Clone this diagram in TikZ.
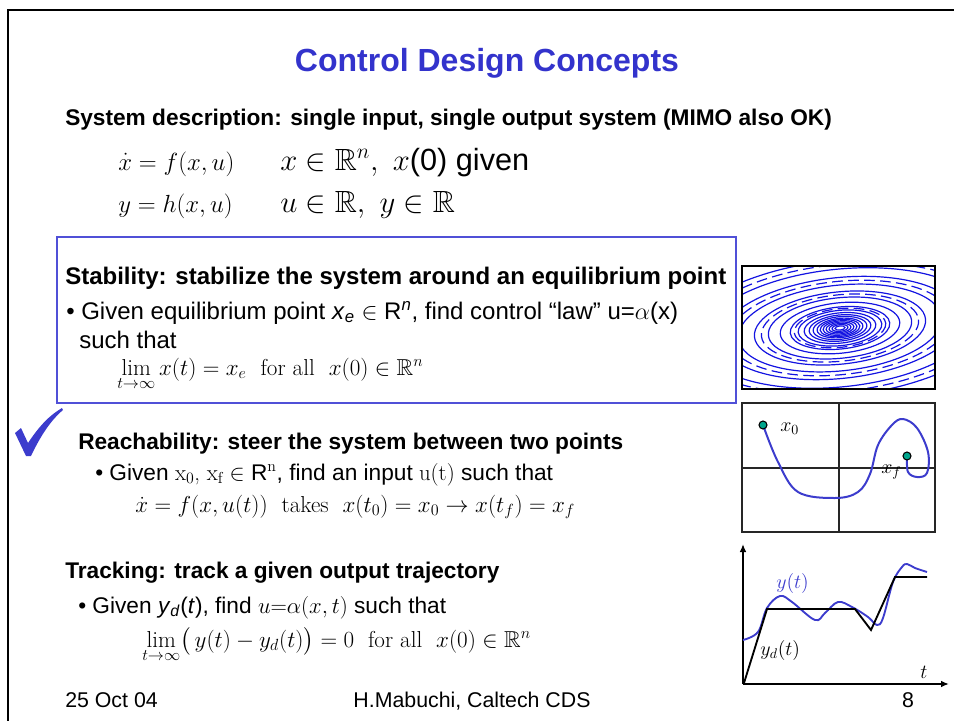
\RequirePackage{fix-cm}
\documentclass[tikz,border=0pt]{standalone}
\usepackage{amsmath, amssymb}
\usepackage{fontspec}
\setsansfont{Liberation Sans}
\usetikzlibrary{arrows.meta}

\definecolor{titleblue}{RGB}{51,51,204}
\definecolor{boxblue}{RGB}{80,80,215}
\definecolor{spiralblue}{RGB}{20,20,225}
\definecolor{curveblue}{RGB}{60,60,205}
\definecolor{dotteal}{RGB}{0,165,140}

\tikzset{
  headline/.style={anchor=base west, inner sep=0pt, font=\sffamily\bfseries\fontsize{17}{20}\selectfont},
  bodyline/.style={anchor=base west, inner sep=0pt, font=\sffamily\fontsize{17}{20}\selectfont},
  mathline/.style={anchor=base west, inner sep=0pt, font=\fontsize{17.3}{21}\selectfont},
  footline/.style={anchor=base, inner sep=0pt, font=\sffamily\fontsize{16}{19}\selectfont},
  figlabel/.style={inner sep=0pt, font=\fontsize{15}{18}\selectfont},
  bigger/.style={font=\sffamily\fontsize{18}{21}\selectfont},
}

\begin{document}
\begin{tikzpicture}[x=0.75pt, y=-0.75pt]
    \useasboundingbox (0,0) rectangle (954,721);

    % Rahmen der Folie
    \draw[line width=2.2pt] (8,721) -- (8,10) -- (954,10);

    % Titel
    \node[anchor=base, inner sep=0pt, text=titleblue, font=\sffamily\bfseries\fontsize{24}{28}\selectfont] (title) at (487,71) {Control Design Concepts};

    % Systembeschreibung
    \node[headline] (sysdesc) at (65,125) {System description: single input, single output system (MIMO also OK)};
    \node[mathline, font=\fontsize{18.6}{22}\selectfont] (eqone) at (118,170) {$\dot{x} = f(x,u)$};
    \node[mathline, font=\fontsize{23}{26}\selectfont] (eqoneb) at (280,170) {$x \in \mathbb{R}^n,\ x$\textsf{(0) given}};
    \node[mathline, font=\fontsize{18.6}{22}\selectfont] (eqtwo) at (118,212) {$y = h(x,u)$};
    \node[mathline, font=\fontsize{23}{26}\selectfont] (eqtwob) at (280,212) {$u \in \mathbb{R},\ y \in \mathbb{R}$};

    % Stabilitaet
    \draw[boxblue, line width=1.5pt] (57,237) rectangle (736,403);
    \node[headline, font=\sffamily\bfseries\fontsize{18}{21}\selectfont] (stabhead) at (65,284) {Stability: stabilize the system around an equilibrium point};
    \node[bodyline, bigger] (stabgiven) at (66,319) {\textbullet\ Given equilibrium point \textit{x}\textsubscript{\textit{e}} $\in$ R\textsuperscript{\textit{n}}, find control “law” u=$\alpha$(x)};
    \node[bodyline, bigger] (stabsuch) at (79,348) {such that};
    \node[mathline] (stablim) at (117,375) {$\lim\limits_{t\to\infty} x(t) = x_e$ \textrm{ for all } $x(0) \in \mathbb{R}^n$};

    % Phasenportrait
    \begin{scope}
        \clip (742,266) rectangle (935,389);
        \foreach \r in {5,8,11,14,17,20,23,27,31,36,42,50,60,72,86,102,120,140,162}
            \draw[spiralblue, line width=0.9pt, rotate around={6:(840,328)}] (840,328) ellipse ({\r} and {0.42*\r});
        \foreach \r in {46,79,111,151}
            \draw[spiralblue, line width=0.9pt, dash pattern=on 8pt off 4pt, rotate around={6:(840,328)}] (840,328) ellipse ({\r} and {0.42*\r});
    \end{scope}
    \draw[line width=1.2pt] (742,266) rectangle (935,389);

    % Erreichbarkeit
    \fill[curveblue] (15,433) -- (21,428) -- (28,443) .. controls (40,425) and (50,415) .. (62,408) -- (63,410) .. controls (50,421) and (40,437) .. (31,456) -- (26,456) -- cycle;
    \node[headline] (reachhead) at (78,449) {Reachability: steer the system between two points};
    \node[bodyline] (reachgiven) at (95,480) {\textbullet\ Given {\rmfamily x\textsubscript{0}, x\textsubscript{f}} $\in$ R\textsuperscript{\rmfamily n}, find an input {\rmfamily u(t)} such that};
    \node[mathline] (reacheq) at (135,512) {$\dot{x} = f(x,u(t))$ \textrm{ takes } $x(t_0) = x_0 \to x(t_f) = x_f$};

    % Skizze: Weg von x0 nach xf
    \draw[black!85, line width=1.1pt] (742,403) rectangle (935,532);
    \draw[black!85, line width=1.1pt] (839,403) -- (839,532);
    \draw[black!85, line width=1.1pt] (742,468) -- (935,468);
    \coordinate (xstart) at (763,425);
    \coordinate (xend) at (907,456);
    \draw[curveblue, line width=1.5pt] plot[smooth, tension=0.6] coordinates {(763,425) (778,462) (798,492) (835,498) (858,492) (870,474) (878,445) (892,425) (903,419) (917,428) (928,452) (927,473) (917,477) (908,472) (907,457)};
    \filldraw[fill=dotteal, draw=black, line width=0.8pt] (xstart) circle (4);
    \filldraw[fill=dotteal, draw=black, line width=0.8pt] (xend) circle (4);
    \node[figlabel, anchor=west] (xzero) at (780,429) {$x_0$};
    \node[figlabel, anchor=west] (xfin) at (881,472) {$x_f$};

    % Folgeregelung
    \node[headline] (trackhead) at (65,578) {Tracking: track a given output trajectory};
    \node[bodyline] (trackgiven) at (78,613) {\textbullet\ Given \textit{y}\textsubscript{\textit{d}}(\textit{t}), find $u{=}\alpha(x,t)$ such that};
    \node[mathline] (tracklim) at (142,647) {$\lim\limits_{t\to\infty}\bigl(\, y(t) - y_d(t) \bigr) = 0$ \textrm{ for all } $x(0) \in \mathbb{R}^n$};

    % Skizze: Ausgang und Sollverlauf
    \coordinate (orig) at (743,684);
    \coordinate (ytop) at (743,544);
    \coordinate (tend) at (949,684);
    \draw[-{Latex[length=6pt, width=5pt]}, line width=1.2pt] (orig) -- (ytop);
    \draw[-{Latex[length=6pt, width=5pt]}, line width=1.2pt] (orig) -- (tend);
    \draw[curveblue, line width=1.4pt] plot[smooth, tension=0.6] coordinates {(743,640) (758,632) (767,608) (780,596) (792,602) (815,620) (825,613) (838,602) (852,607) (868,617) (877,625) (883,618) (893,582) (902,567) (907,564) (915,568) (927,572)};
    \draw[black, line width=1.4pt] (744,683) -- (767,609) -- (855,609) -- (871,630) -- (895,577) -- (927,577);
    \node[figlabel, anchor=west, text=curveblue] (ylab) at (776,583) {$y(t)$};
    \node[figlabel, anchor=west] (ydlab) at (760,650) {$y_d(t)$};
    \node[figlabel] (tlab) at (924,672) {$t$};

    % Fusszeile
    \node[footline, anchor=base west] (date) at (65,707) {25 Oct 04};
    \node[footline] (author) at (472,707) {H.Mabuchi, Caltech CDS};
    \node[footline] (page) at (908,707) {8};
\end{tikzpicture}
\end{document}
